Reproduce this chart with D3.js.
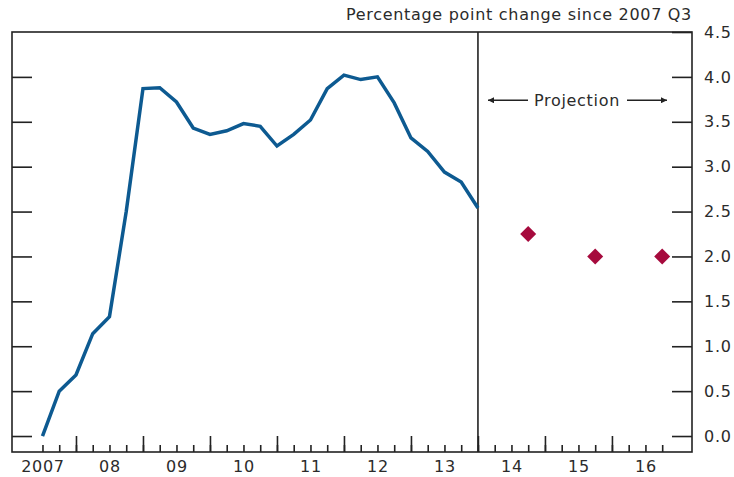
<!DOCTYPE html>
<html>
<head>
<meta charset="utf-8">
<script src="https://cdn.jsdelivr.net/npm/d3@7"></script>
<style>
  body { margin: 0; background: #fff; }
  svg text { font-family: "DejaVu Sans", sans-serif; fill: #2b2b2b; letter-spacing: 0.7px; }
</style>
</head>
<body>
<div id="viz"></div>
<script>
// Quarterly index: 0 = 2007 Q3, one step per quarter
var histQuarter = d3.range(0, 27);
var histValues = [0.0, 0.50, 0.68, 1.14, 1.33, 2.50, 3.87, 3.88, 3.72, 3.43,
                  3.36, 3.40, 3.48, 3.45, 3.23, 3.36, 3.52, 3.87, 4.02, 3.97,
                  4.00, 3.71, 3.32, 3.17, 2.94, 2.83, 2.54];

var projQuarter = [29, 33, 37];
var projValues = [2.25, 2.0, 2.0];

var yearLabels = ["2007", "08", "09", "10", "11", "12", "13", "14", "15", "16"];
var yearQuarter = [0, 4, 8, 12, 16, 20, 24, 28, 32, 36];
var minorTicks = d3.range(0, 38);
var majorTicks = [2, 6, 10, 14, 18, 22, 26, 30, 34];
var yTicks = [0, 0.5, 1, 1.5, 2, 2.5, 3, 3.5, 4, 4.5];
var projStart = 26;

var W = 734, H = 477;
var plotL = 12, plotR = 692, plotT = 32, plotB = 452;
var fontSize = 16;

var x = d3.scaleLinear().domain([-1.82, 38.78]).range([plotL, plotR]);
var y = d3.scaleLinear().domain([-0.178, 4.5]).range([plotB, plotT]);

var svg = d3.select("#viz").append("svg")
    .attr("width", W).attr("height", H);

// frame
svg.append("rect")
    .attr("x", plotL).attr("y", plotT)
    .attr("width", plotR - plotL).attr("height", plotB - plotT)
    .attr("fill", "none").attr("stroke", "#222").attr("stroke-width", 1.6);

// left ticks (no labels)
var leftAxis = svg.append("g")
    .attr("transform", "translate(" + plotL + ",0)")
    .call(d3.axisRight(y).tickValues(yTicks.slice(0, -1)).tickSize(20).tickFormat(""));

// right ticks with labels
var rightAxis = svg.append("g")
    .attr("transform", "translate(" + plotR + ",0)")
    .call(d3.axisRight(y).tickValues(yTicks).tickSizeInner(-20).tickSizeOuter(0)
        .tickPadding(12).tickFormat(d3.format(".1f")));

// bottom minor and major ticks
var minorAxis = svg.append("g")
    .attr("transform", "translate(0," + plotB + ")")
    .call(d3.axisTop(x).tickValues(minorTicks).tickSize(7).tickFormat(""));
var majorAxis = svg.append("g")
    .attr("transform", "translate(0," + plotB + ")")
    .call(d3.axisTop(x).tickValues(majorTicks).tickSize(16).tickFormat(""));
var labelAxis = svg.append("g")
    .attr("transform", "translate(0," + plotB + ")")
    .call(d3.axisBottom(x).tickValues(yearQuarter).tickSize(0).tickPadding(9)
        .tickFormat(function(d, i) { return yearLabels[i]; }));

[leftAxis, rightAxis, minorAxis, majorAxis, labelAxis].forEach(function(g) {
    g.select(".domain").remove();
    g.selectAll("line").attr("stroke", "#222").attr("stroke-width", 1.6);
    g.selectAll("text").attr("font-size", fontSize).attr("fill", "#2b2b2b")
        .attr("font-family", "'DejaVu Sans', sans-serif");
});

// projection divider
svg.append("line")
    .attr("x1", x(projStart)).attr("x2", x(projStart))
    .attr("y1", plotT).attr("y2", plotB)
    .attr("stroke", "#222").attr("stroke-width", 1.6);

// Projection label with arrows
var defs = svg.append("defs");
defs.append("marker")
    .attr("id", "arrow")
    .attr("viewBox", "0 0 10 10")
    .attr("refX", 10).attr("refY", 5)
    .attr("markerWidth", 13).attr("markerHeight", 6)
    .attr("markerUnits", "userSpaceOnUse")
    .attr("orient", "auto")
    .append("path").attr("d", "M0,0 L10,5 L0,10 z").attr("fill", "#222");

var arrowY = y(3.74);
svg.append("line")
    .attr("x1", 528).attr("y1", arrowY).attr("x2", 488).attr("y2", arrowY)
    .attr("stroke", "#222").attr("stroke-width", 1.5).attr("marker-end", "url(#arrow)");
svg.append("line")
    .attr("x1", 627).attr("y1", arrowY).attr("x2", 667).attr("y2", arrowY)
    .attr("stroke", "#222").attr("stroke-width", 1.5).attr("marker-end", "url(#arrow)");
svg.append("text")
    .attr("x", 577).attr("y", arrowY).attr("dy", "0.35em")
    .attr("text-anchor", "middle").attr("font-size", fontSize)
    .text("Projection");

// history line
var line = d3.line()
    .x(function(d, i) { return x(histQuarter[i]); })
    .y(function(d) { return y(d); });
svg.append("path")
    .datum(histValues)
    .attr("d", line)
    .attr("fill", "none")
    .attr("stroke", "#0d5a91")
    .attr("stroke-width", 3.5)
    .attr("stroke-linejoin", "miter");

// projection diamonds
svg.selectAll(".proj")
    .data(projValues)
    .enter().append("path")
    .attr("class", "proj")
    .attr("d", d3.symbol().type(d3.symbolSquare).size(128))
    .attr("transform", function(d, i) {
        return "translate(" + x(projQuarter[i]) + "," + y(d) + ") rotate(45)";
    })
    .attr("fill", "#a60a3d");

// units title
svg.append("text")
    .attr("x", plotR).attr("y", 20)
    .attr("text-anchor", "end").attr("font-size", fontSize)
    .text("Percentage point change since 2007 Q3");
</script>
</body>
</html>
